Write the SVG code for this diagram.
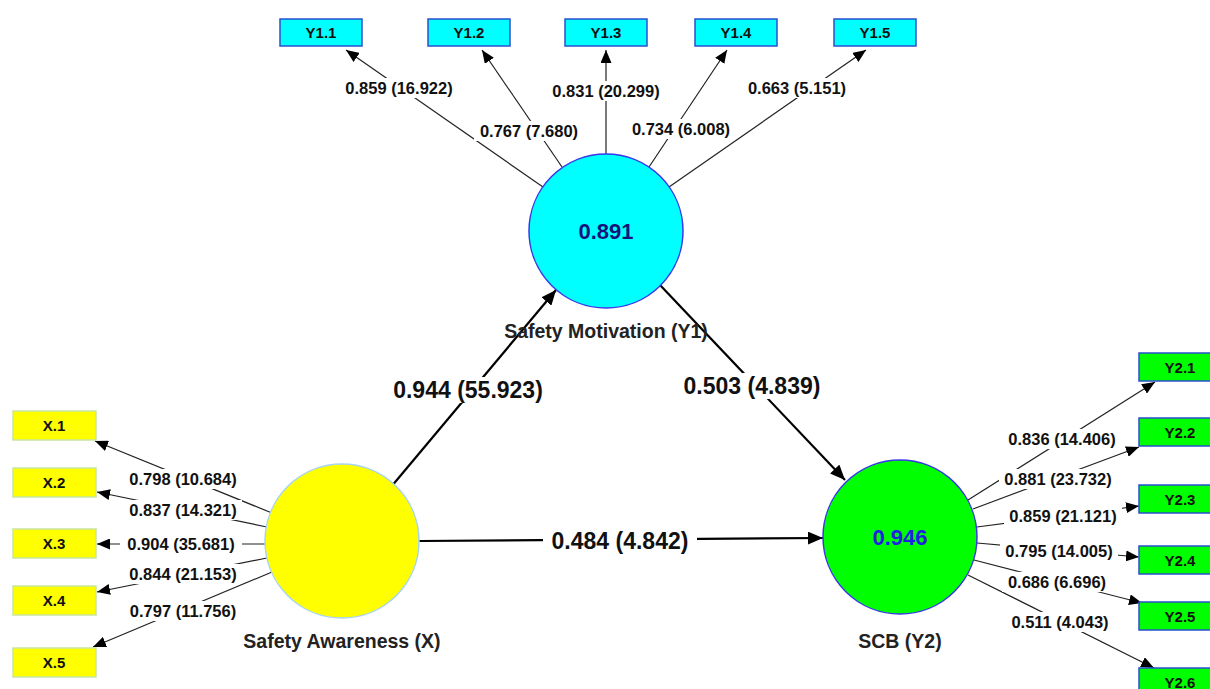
<svg xmlns="http://www.w3.org/2000/svg" width="1210" height="689" viewBox="0 0 1210 689">
<defs>
<marker id="ah" markerUnits="userSpaceOnUse" markerWidth="13" markerHeight="11" refX="13" refY="5.5" orient="auto"><path d="M0,0 L13,5.5 L0,11 z" fill="#000"/></marker>
<marker id="ahb" markerUnits="userSpaceOnUse" markerWidth="15" markerHeight="13" refX="15" refY="6.5" orient="auto"><path d="M0,0 L15,6.5 L0,13 z" fill="#000"/></marker>
<style>
text{font-family:"Liberation Sans",Arial,sans-serif;font-weight:bold;text-anchor:middle;fill:#111}
.ind{stroke:#222;stroke-width:1.2;fill:none;marker-end:url(#ah)}
.str{stroke:#000;stroke-width:2.2;fill:none;marker-end:url(#ahb)}
.bg{fill:#fff}
.sl{font-size:16.5px}
.ml{font-size:23px}
.bt{font-size:15px}
.cn{font-size:19.5px;fill:#222}
.cyanbox{fill:#00ffff;stroke:#2a4fd0;stroke-width:1.5}
.greenbox{fill:#00ff00;stroke:#2a4fd0;stroke-width:1.5}
.yellowbox{fill:#ffff00;stroke:#c8e6a0;stroke-width:1.5}
</style>
</defs>
<rect width="1210" height="689" fill="#fff"/>

<g id="connectors">
<!-- Y1 indicators -->
<line class="ind" x1="543" y1="187" x2="346" y2="50"/>
<line class="ind" x1="562" y1="167" x2="482" y2="50"/>
<line class="ind" x1="606" y1="154" x2="606" y2="50"/>
<line class="ind" x1="649" y1="167" x2="727" y2="50"/>
<line class="ind" x1="669" y1="187" x2="866" y2="50"/>
<!-- X indicators -->
<line class="ind" x1="272" y1="513" x2="95" y2="441"/>
<line class="ind" x1="267" y1="527" x2="97" y2="492"/>
<line class="ind" x1="265" y1="544" x2="97" y2="544"/>
<line class="ind" x1="267" y1="558" x2="97" y2="592"/>
<line class="ind" x1="272" y1="572" x2="93" y2="647"/>
<!-- Y2 indicators -->
<line class="ind" x1="968" y1="500" x2="1155" y2="382"/>
<line class="ind" x1="973" y1="509" x2="1139" y2="447"/>
<line class="ind" x1="977" y1="527" x2="1139" y2="506"/>
<line class="ind" x1="977" y1="543" x2="1139" y2="557"/>
<line class="ind" x1="974" y1="560" x2="1142" y2="603"/>
<line class="ind" x1="968" y1="575" x2="1154" y2="668"/>
<!-- structural -->
<line class="str" x1="391" y1="487" x2="556" y2="290"/>
<line class="str" x1="660" y1="285" x2="845" y2="480"/>
<line class="str" x1="419" y1="541" x2="823" y2="538"/>

<!-- labels -->
<rect class="bg" x="340" y="78" width="118" height="20"/><text class="sl" x="399" y="94">0.859 (16.922)</text>
<rect class="bg" x="474" y="121" width="110" height="20"/><text class="sl" x="529" y="137">0.767 (7.680)</text>
<rect class="bg" x="547" y="81" width="118" height="20"/><text class="sl" x="606" y="97">0.831 (20.299)</text>
<rect class="bg" x="626" y="119" width="110" height="20"/><text class="sl" x="681" y="135">0.734 (6.008)</text>
<rect class="bg" x="742" y="78" width="110" height="20"/><text class="sl" x="797" y="94">0.663 (5.151)</text>

<rect class="bg" x="124" y="469" width="118" height="20"/><text class="sl" x="183" y="485">0.798 (10.684)</text>
<rect class="bg" x="124" y="500" width="118" height="20"/><text class="sl" x="183" y="516">0.837 (14.321)</text>
<rect class="bg" x="120" y="534" width="122" height="20"/><text class="sl" x="181" y="550">0.904 (35.681)</text>
<rect class="bg" x="124" y="564" width="118" height="20"/><text class="sl" x="183" y="580">0.844 (21.153)</text>
<rect class="bg" x="124" y="601" width="118" height="20"/><text class="sl" x="183" y="617">0.797 (11.756)</text>

<rect class="bg" x="1003" y="429" width="118" height="20"/><text class="sl" x="1062" y="445">0.836 (14.406)</text>
<rect class="bg" x="999" y="469" width="118" height="20"/><text class="sl" x="1058" y="485">0.881 (23.732)</text>
<rect class="bg" x="1004" y="506" width="118" height="20"/><text class="sl" x="1063" y="522">0.859 (21.121)</text>
<rect class="bg" x="1000" y="541" width="118" height="20"/><text class="sl" x="1059" y="557">0.795 (14.005)</text>
<rect class="bg" x="1002" y="572" width="110" height="20"/><text class="sl" x="1057" y="588">0.686 (6.696)</text>
<rect class="bg" x="1005" y="612" width="110" height="20"/><text class="sl" x="1060" y="628">0.511 (4.043)</text>

<rect class="bg" x="385" y="377" width="166" height="26"/><text class="ml" x="468" y="398">0.944 (55.923)</text>
<rect class="bg" x="675" y="373" width="154" height="26"/><text class="ml" x="752" y="394">0.503 (4.839)</text>
<rect class="bg" x="543" y="528" width="154" height="26"/><text class="ml" x="620" y="549">0.484 (4.842)</text>
</g>

<g id="Y1">
<circle cx="606" cy="231" r="77" fill="#00ffff" stroke="#3838e8" stroke-width="1.5"/>
<text x="606" y="239" style="font-size:22px;fill:#14147a">0.891</text>
<text class="cn" x="606" y="338">Safety Motivation (Y1)</text>
</g>
<g id="X">
<circle cx="342" cy="541" r="77" fill="#ffff00" stroke="#a8d4f0" stroke-width="1.5"/>
<text class="cn" x="342" y="648">Safety Awareness (X)</text>
</g>
<g id="Y2">
<circle cx="900" cy="537" r="77" fill="#00ff00" stroke="#3838e8" stroke-width="1.5"/>
<text x="900" y="545" style="font-size:22px;fill:#2020e0">0.946</text>
<text class="cn" x="900" y="648">SCB (Y2)</text>
</g>

<g id="Y1.1"><rect class="cyanbox" x="280" y="19" width="82" height="27"/><text class="bt" x="321" y="38">Y1.1</text></g>
<g id="Y1.2"><rect class="cyanbox" x="428" y="19" width="82" height="27"/><text class="bt" x="469" y="38">Y1.2</text></g>
<g id="Y1.3"><rect class="cyanbox" x="565" y="19" width="82" height="27"/><text class="bt" x="606" y="38">Y1.3</text></g>
<g id="Y1.4"><rect class="cyanbox" x="695" y="19" width="82" height="27"/><text class="bt" x="736" y="38">Y1.4</text></g>
<g id="Y1.5"><rect class="cyanbox" x="834" y="19" width="82" height="27"/><text class="bt" x="875" y="38">Y1.5</text></g>

<g id="X.1"><rect class="yellowbox" x="13" y="411" width="83" height="29"/><text class="bt" x="54" y="431">X.1</text></g>
<g id="X.2"><rect class="yellowbox" x="13" y="468" width="83" height="29"/><text class="bt" x="54" y="488">X.2</text></g>
<g id="X.3"><rect class="yellowbox" x="13" y="529" width="83" height="29"/><text class="bt" x="54" y="549">X.3</text></g>
<g id="X.4"><rect class="yellowbox" x="13" y="586" width="83" height="29"/><text class="bt" x="54" y="606">X.4</text></g>
<g id="X.5"><rect class="yellowbox" x="13" y="648" width="83" height="29"/><text class="bt" x="54" y="668">X.5</text></g>

<g id="Y2.1"><rect class="greenbox" x="1139" y="353" width="83" height="28"/><text class="bt" x="1180" y="373">Y2.1</text></g>
<g id="Y2.2"><rect class="greenbox" x="1139" y="418" width="83" height="28"/><text class="bt" x="1180" y="438">Y2.2</text></g>
<g id="Y2.3"><rect class="greenbox" x="1139" y="485" width="83" height="28"/><text class="bt" x="1180" y="505">Y2.3</text></g>
<g id="Y2.4"><rect class="greenbox" x="1139" y="546" width="83" height="28"/><text class="bt" x="1180" y="566">Y2.4</text></g>
<g id="Y2.5"><rect class="greenbox" x="1139" y="602" width="83" height="28"/><text class="bt" x="1180" y="622">Y2.5</text></g>
<g id="Y2.6"><rect class="greenbox" x="1139" y="668" width="83" height="28"/><text class="bt" x="1180" y="688">Y2.6</text></g>
</svg>
